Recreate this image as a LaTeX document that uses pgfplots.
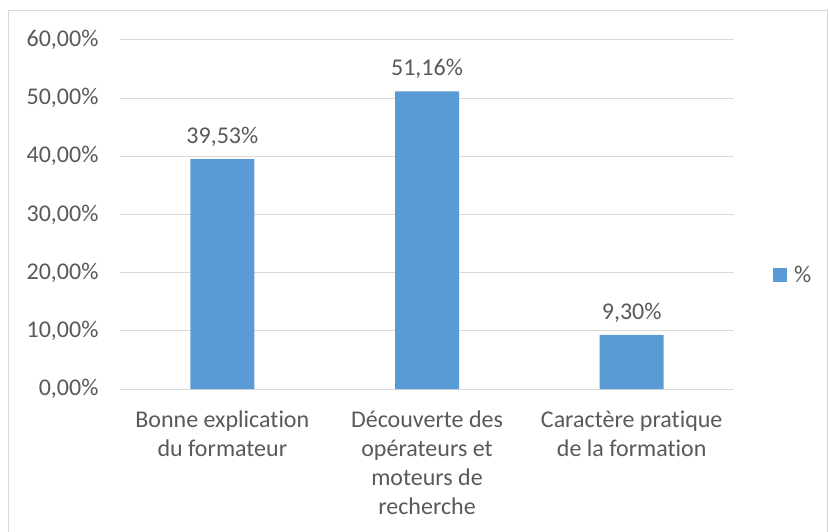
\documentclass[border=0pt]{standalone}
\usepackage{fontspec}
\setmainfont{Carlito}[Ligatures=NoCommon]
\usepackage{pgfplots}
\pgfplotsset{compat=1.18}
\definecolor{barblue}{HTML}{5B9BD5}
\definecolor{txtgray}{HTML}{595959}
\definecolor{gridgray}{HTML}{D9D9D9}
\begin{document}
\begin{tikzpicture}
\useasboundingbox (-120pt,-143pt) rectangle (709pt,389pt);
\draw[gridgray, line width=0.8pt] (-112pt,-150pt) rectangle (707pt,379pt);
\begin{axis}[
  at={(0pt,0pt)}, anchor=south west,
  scale only axis, width=614pt, height=349pt,
  xmin=-0.5, xmax=2.5, ymin=0, ymax=60,
  ytick={0,10,...,60},
  xtick=data,
  xticklabels={{Bonne explication\\du formateur},{Découverte des\\opérateurs et\\moteurs de\\recherche},{Caractère pratique\\de la formation}},
  /pgf/number format/assume math mode=true,
  yticklabel={\pgfmathprintnumber[fixed,fixed zerofill,precision=2,use comma]{\tick}\%},
  font=\fontsize{24}{29}\selectfont,
  ticklabel style={text=txtgray, font=\fontsize{24}{29}\selectfont},
  xticklabel style={align=center, yshift=-14pt},
  yticklabel style={xshift=-18pt},
  axis line style={draw=none},
  axis x line*=bottom,
  x axis line style={draw=gridgray, line width=1pt},
  tick style={draw=none},
  ymajorgrids, grid style={gridgray, line width=1pt},
  ybar, bar width=64pt,
  nodes near coords={\pgfmathprintnumber[fixed,fixed zerofill,precision=2,use comma]{\pgfplotspointmeta}\%},
  nodes near coords style={text=txtgray, font=\fontsize{24}{29}\selectfont, yshift=9pt},
  legend style={at={(1.0635,0.3267)}, anchor=west, draw=none, fill=none, inner sep=0pt, font=\fontsize{24}{29}\selectfont, text=txtgray, /tikz/every odd column/.append style={column sep=5pt}},
  legend image code/.code={\fill[barblue] (0pt,-7pt) rectangle (14pt,7pt);},
  clip=false,
]
\addplot[fill=barblue, draw=none] coordinates {(0,39.53) (1,51.16) (2,9.30)};
\addlegendentry{\%}
\end{axis}
\end{tikzpicture}
\end{document}
